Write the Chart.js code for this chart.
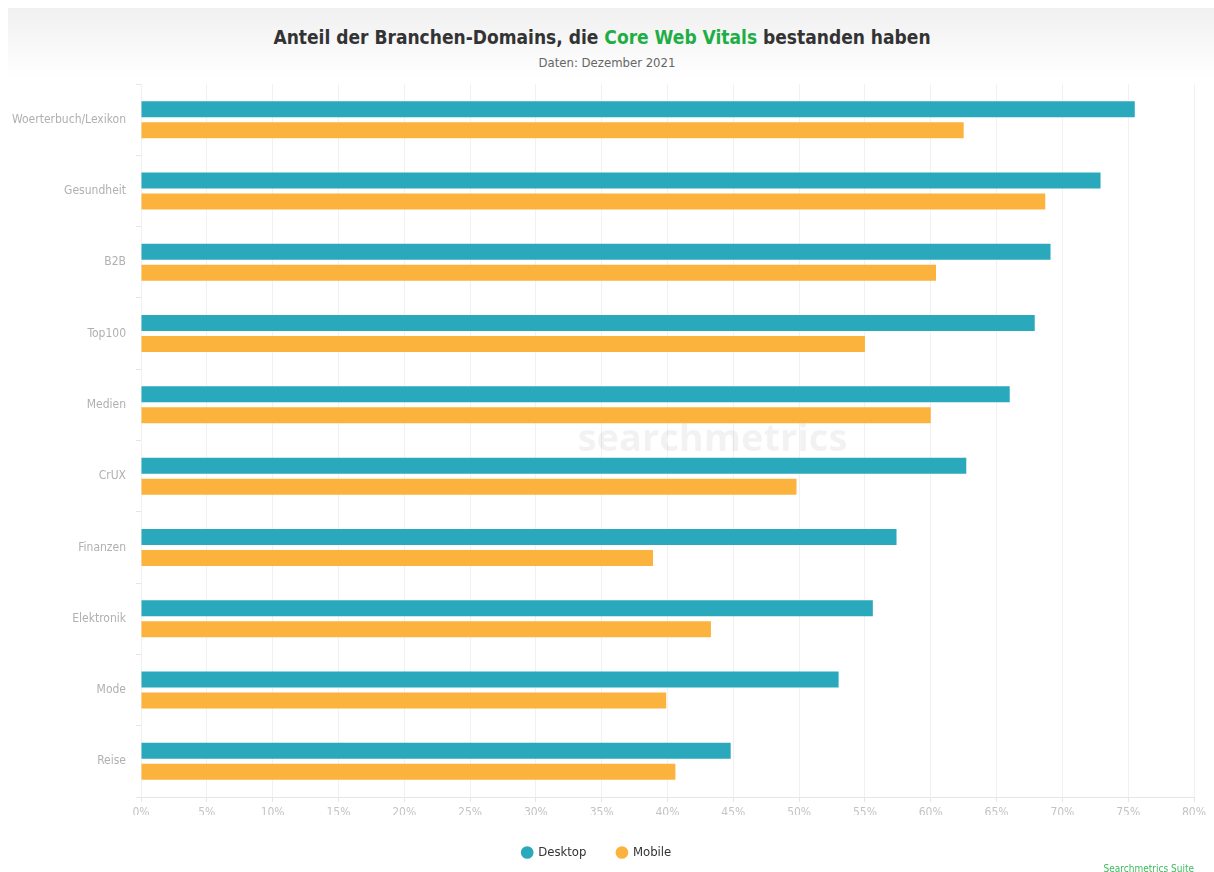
<!DOCTYPE html>
<html lang="de">
<head>
    <meta charset="UTF-8">
    <title>Core Web Vitals nach Branche</title>
    <script src="https://cdn.jsdelivr.net/npm/chart.js"></script>
    <style>
        body {
            margin: 0;
            width: 1214px;
            height: 872px;
            overflow: hidden;
            background: #fff;
            font-family: "DejaVu Sans Condensed", "DejaVu Sans", sans-serif;
            position: relative;
        }

        .header-band {
            position: absolute;
            left: 8px;
            top: 8px;
            width: 1206px;
            height: 70px;
            background: linear-gradient(#f0f0f0, #fff);
        }

        .title {
            position: absolute;
            top: 26px;
            left: -5px;
            width: 1214px;
            text-align: center;
            font-size: 19px;
            font-weight: bold;
            color: #333;
        }

        .title .green {
            color: #1fae45;
        }

        .subtitle {
            position: absolute;
            top: 55px;
            left: 0;
            width: 1214px;
            text-align: center;
            font-size: 13px;
            color: #666;
        }

        .chart-box {
            position: absolute;
            left: 0;
            top: 0;
            width: 1214px;
            height: 872px;
        }

        .credits {
            position: absolute;
            right: 20px;
            top: 863px;
            font-size: 10px;
            color: #3dbb5c;
        }
    </style>
</head>
<body>

    <div class="header-band"></div>
    <div class="title">Anteil der Branchen-Domains, die <span class="green">Core Web Vitals</span> bestanden haben</div>
    <div class="subtitle">Daten: Dezember 2021</div>

    <div class="chart-box">
        <canvas id="myChart"></canvas>
    </div>

    <div class="credits">Searchmetrics Suite</div>

<script>
    const categories = [
        "Woerterbuch/Lexikon", "Gesundheit", "B2B", "Top100", "Medien",
        "CrUX", "Finanzen", "Elektronik", "Mode", "Reise"
    ];
    const desktopValues = [75.5, 72.9, 69.1, 67.9, 66.0, 62.7, 57.4, 55.6, 53.0, 44.8];
    const mobileValues = [62.5, 68.7, 60.4, 55.0, 60.0, 49.8, 38.9, 43.3, 39.9, 40.6];

    const fontFamily = '"DejaVu Sans Condensed", "DejaVu Sans", sans-serif';

    // faint brand text behind the bars
    const watermark = {
        id: 'watermark',
        beforeDatasetsDraw(chart) {
            const { ctx, chartArea } = chart;
            const cx = (chartArea.left + chartArea.right) / 2;
            const cy = (chartArea.top + chartArea.bottom) / 2;
            ctx.save();
            ctx.fillStyle = 'rgba(0, 0, 0, 0.05)';
            ctx.font = 'bold 38px "Open Sans", sans-serif';
            ctx.textAlign = 'center';
            ctx.textBaseline = 'middle';
            ctx.fillText('searchmetrics', cx + 45, cy);
            ctx.restore();
        }
    };

    const ctx = document.getElementById('myChart').getContext('2d');

    new Chart(ctx, {
        type: 'bar',
        data: {
            labels: categories,
            datasets: [
                {
                    label: 'Desktop',
                    data: desktopValues,
                    backgroundColor: '#29a9bb'
                },
                {
                    label: 'Mobile',
                    data: mobileValues,
                    backgroundColor: '#fcb33d'
                }
            ]
        },
        options: {
            indexAxis: 'y',
            responsive: true,
            maintainAspectRatio: false,
            animation: false,
            categoryPercentage: 0.59,
            barPercentage: 0.76,
            layout: {
                padding: { top: 84, right: 20, bottom: 3, left: 0 }
            },
            scales: {
                x: {
                    min: 0,
                    max: 80,
                    afterFit: (scale) => { scale.height = 18; },
                    ticks: {
                        stepSize: 5,
                        padding: 4,
                        color: '#c4c4c4',
                        font: { family: fontFamily, size: 12 },
                        callback: (v) => v + '%'
                    },
                    grid: {
                        color: '#f1f1f1',
                        tickColor: '#e6e6e6',
                        tickLength: 5
                    },
                    border: { color: '#e6e6e6' }
                },
                y: {
                    afterFit: (scale) => { scale.width = 141; },
                    ticks: {
                        padding: 10,
                        color: '#b0b0b0',
                        font: { family: fontFamily, size: 12 }
                    },
                    grid: {
                        drawOnChartArea: false,
                        tickColor: '#e6e6e6',
                        tickLength: 5
                    },
                    border: { display: false }
                }
            },
            plugins: {
                legend: {
                    position: 'bottom',
                    labels: {
                        usePointStyle: true,
                        pointStyle: 'circle',
                        boxWidth: 9,
                        boxHeight: 9,
                        padding: 31,
                        color: '#333',
                        font: { family: fontFamily, size: 13 }
                    }
                },
                tooltip: { enabled: false }
            }
        },
        plugins: [watermark]
    });
</script>

</body>
</html>
